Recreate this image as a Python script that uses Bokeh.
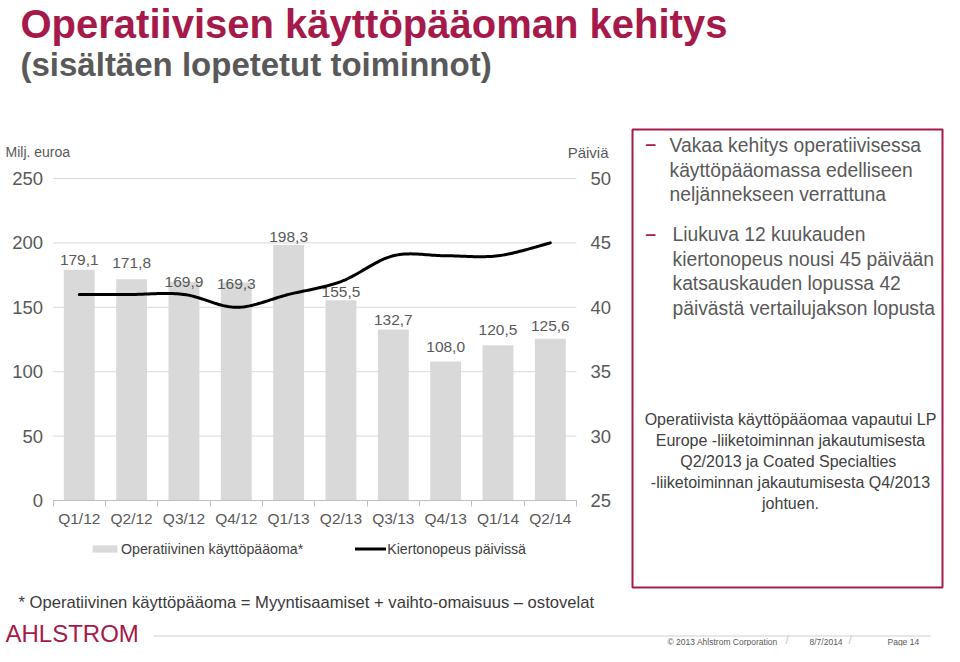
import numpy as np
from bokeh.plotting import figure
from bokeh.models import (Range1d, LinearAxis, FixedTicker, Label, BoxAnnotation,
                          Legend, LegendItem, ColumnDataSource)
from bokeh.embed import file_html
from bokeh.resources import INLINE

# ---------------- data ----------------
quarters = ["Q1/12", "Q2/12", "Q3/12", "Q4/12", "Q1/13", "Q2/13", "Q3/13", "Q4/13", "Q1/14", "Q2/14"]
working_capital = [179.1, 171.8, 169.9, 169.3, 198.3, 155.5, 132.7, 108.0, 120.5, 125.6]
turnover_days = [41, 41, 41, 40, 41, 42, 44, 44, 44, 45]
value_labels = ["179,1", "171,8", "169,9", "169,3", "198,3", "155,5", "132,7", "108,0", "120,5", "125,6"]
left_ticks = [0, 50, 100, 150, 200, 250]
right_ticks = [25, 30, 35, 40, 45, 50]

# label nudges (pixels, negative = up), as placed on the slide
label_dy = [-10, -16, 0, 2, -8, -8, -10, -14, -15, -13]

CRIMSON = "#A51A4A"
GRAY_TXT = "#595959"
DARK_TXT = "#404040"
FONT = "Liberation Sans"

W, H = 944, 646
# chart plot area on the slide (pixels): left, right, top (value 250 / 50 days), bottom (0 / 25 days)
PA_L, PA_R, PA_T, PA_B = 52.6, 576.0, 178.0, 500.0
n = len(quarters)
px_x = (PA_R - PA_L) / n
px_eur = (PA_B - PA_T) / (left_ticks[-1] - left_ticks[0])
px_day = (PA_B - PA_T) / (right_ticks[-1] - right_ticks[0])

x_range = Range1d(-0.5 - PA_L / px_x, -0.5 + (W - PA_L) / px_x)
y_range = Range1d(-(H - PA_B) / px_eur, PA_B / px_eur)
days_range = Range1d(right_ticks[0] - (H - PA_B) / px_day, right_ticks[0] + PA_B / px_day)

p = figure(width=W, height=H, output_backend="svg", toolbar_location=None,
           x_range=x_range, y_range=y_range, min_border=0)
p.outline_line_color = None
p.background_fill_color = "white"
p.border_fill_color = "white"
p.extra_y_ranges = {"days": days_range}
p.grid.visible = False

xs = np.arange(n)

# horizontal gridlines across the plot area only
p.segment(x0=[-0.5] * len(left_ticks), x1=[n - 0.5] * len(left_ticks), y0=left_ticks, y1=left_ticks,
          line_color="#D9D9D9", line_width=1)

src = ColumnDataSource(dict(x=xs, top=working_capital, lab=value_labels, dy=label_dy))
bars = p.vbar(x="x", top="top", width=0.59, source=src, fill_color="#D9D9D9", line_color=None)
p.text(x="x", y="top", text="lab", source=src, y_offset="dy", text_align="center",
       text_baseline="middle", text_font_size="15.5px", text_color=GRAY_TXT,
       text_font={"value": FONT})


def smooth(xv, yv, k=24):
    """Excel-style smoothed line through the data points (Catmull-Rom)."""
    P = np.column_stack([np.asarray(xv, float), np.asarray(yv, float)])
    P = np.vstack([P[0], P, P[-1]])
    out = []
    for i in range(1, len(P) - 2):
        p0, p1, p2, p3 = P[i - 1], P[i], P[i + 1], P[i + 2]
        for t in np.linspace(0, 1, k, endpoint=False):
            t2, t3 = t * t, t * t * t
            out.append(0.5 * ((2 * p1) + (-p0 + p2) * t + (2 * p0 - 5 * p1 + 4 * p2 - p3) * t2
                              + (-p0 + 3 * p1 - 3 * p2 + p3) * t3))
    out.append(P[-2])
    out = np.array(out)
    return out[:, 0], out[:, 1]


lx, ly = smooth(xs, turnover_days)
line = p.line(lx, ly, y_range_name="days", line_color="black", line_width=3,
              line_cap="round", line_join="round")

# axes, pinned to the plot-area edges
ya = p.yaxis[0]
ya.fixed_location = -0.5
ya.bounds = (left_ticks[0], left_ticks[-1])
ya.ticker = FixedTicker(ticks=left_ticks)
ya.axis_line_color = None
ya.major_tick_line_color = None
ya.minor_tick_line_color = None
ya.major_tick_out = 0
ya.major_label_standoff = 10
ya.major_label_text_font_size = "18.5px"
ya.major_label_text_color = GRAY_TXT
ya.major_label_text_font = FONT

raxis = LinearAxis(y_range_name="days", ticker=FixedTicker(ticks=right_ticks),
                   fixed_location=n - 0.5, bounds=(right_ticks[0], right_ticks[-1]))
raxis.axis_line_color = None
raxis.major_tick_line_color = None
raxis.minor_tick_line_color = None
raxis.major_tick_out = 0
raxis.major_label_standoff = 14
raxis.major_label_text_font_size = "18.5px"
raxis.major_label_text_color = GRAY_TXT
raxis.major_label_text_font = FONT
p.add_layout(raxis, "right")

xa = p.xaxis[0]
xa.fixed_location = 0
xa.bounds = (-0.5, n - 0.5)
xa.ticker = FixedTicker(ticks=list(xs), minor_ticks=list(np.arange(n + 1) - 0.5))
xa.major_label_overrides = {int(i): q for i, q in zip(xs, quarters)}
xa.axis_line_color = "#BFBFBF"
xa.major_tick_line_color = None
xa.major_tick_out = 0
xa.major_tick_in = 0
xa.minor_tick_line_color = "#BFBFBF"
xa.minor_tick_out = 6
xa.minor_tick_in = 0
xa.major_label_standoff = 3
xa.major_label_text_font_size = "15.5px"
xa.major_label_text_color = GRAY_TXT
xa.major_label_text_font = FONT

legend = Legend(items=[LegendItem(label="Operatiivinen käyttöpääoma*", renderers=[bars]),
                       LegendItem(label="Kiertonopeus päivissä", renderers=[line])],
                orientation="horizontal", location=(89, H - 556.5),
                border_line_color=None, background_fill_alpha=0, padding=0, margin=0,
                spacing=52, glyph_width=31, glyph_height=9, label_standoff=1,
                label_text_font_size="14.2px", label_text_font=FONT, label_text_color=DARK_TXT)
p.add_layout(legend)


# ---------------- slide texts & decorations (slide pixel coordinates) ----------------
def lab(text, X, Y, size, color=GRAY_TXT, align="left", style="normal"):
    p.add_layout(Label(x=X, y=H - Y, x_units="screen", y_units="screen", text=text,
                       text_align=align, text_baseline="middle", text_font_size=f"{size}px",
                       text_color=color, text_font_style=style, text_font=FONT))


def box(left, right, top, bottom, **kw):
    p.add_layout(BoxAnnotation(left=left, right=right, top=H - top, bottom=H - bottom,
                               left_units="screen", right_units="screen",
                               top_units="screen", bottom_units="screen", **kw))


lab("Operatiivisen käyttöpääoman kehitys", 20, 23, 40, CRIMSON, style="bold")
lab("(sisältäen lopetetut toiminnot)", 20, 64, 33, GRAY_TXT, style="bold")
lab("Milj. euroa", 5, 151, 14, GRAY_TXT)
lab("Päiviä", 608, 152, 15, GRAY_TXT, align="right")

box(632, 942, 129, 587, fill_alpha=0, line_color=CRIMSON, line_alpha=1, line_width=2)
lab("–", 645, 143, 19, CRIMSON, style="bold")
for i, t in enumerate(["Vakaa kehitys operatiivisessa", "käyttöpääomassa edelliseen",
                       "neljännekseen verrattuna"]):
    lab(t, 669, 145 + i * 24.5, 19.3, GRAY_TXT)
lab("–", 645, 233, 19, CRIMSON, style="bold")
for i, t in enumerate(["Liukuva 12 kuukauden", "kiertonopeus nousi 45 päivään",
                       "katsauskauden lopussa 42", "päivästä vertailujakson lopusta"]):
    lab(t, 672, 234 + i * 24.5, 19.3, GRAY_TXT)
for i, t in enumerate(["Operatiivista käyttöpääomaa vapautui LP",
                       "Europe -liiketoiminnan jakautumisesta",
                       "Q2/2013  ja Coated Specialties",
                       "-liiketoiminnan jakautumisesta Q4/2013",
                       "johtuen."]):
    lab(t, 790, 419 + i * 21, 16, DARK_TXT, align="center")

lab("* Operatiivinen käyttöpääoma = Myyntisaamiset + vaihto-omaisuus – ostovelat",
    18, 602, 16.6, "#3A3A3A")
lab("AHLSTROM", 5, 633, 24, CRIMSON)
box(153, 930, 635, 636, fill_color="#D0D0D0", fill_alpha=1, line_color=None)
lab("© 2013 Ahlstrom Corporation", 667, 641, 8.5, GRAY_TXT)
lab("/", 785, 639, 12, "#C8C8C8")
lab("8/7/2014", 809, 641, 8.5, GRAY_TXT)
lab("/", 848, 639, 12, "#C8C8C8")
lab("Page 14", 887, 641, 8.5, GRAY_TXT)

open("out.html", "w").write(file_html(p, INLINE))
